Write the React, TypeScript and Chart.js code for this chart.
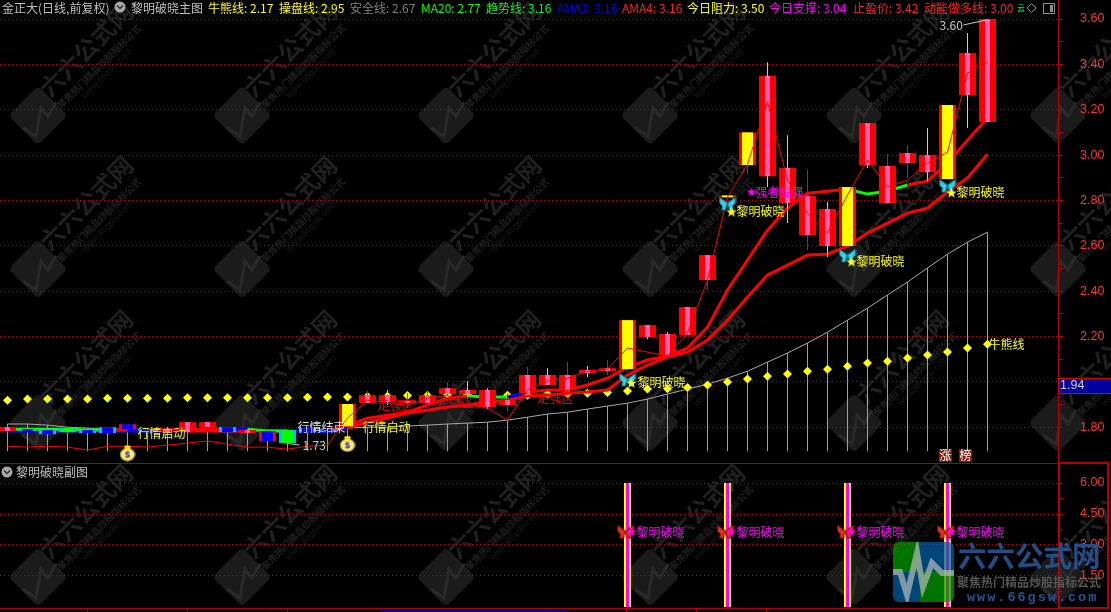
import React, { useEffect, useRef } from "react";
import { Chart, registerables } from "chart.js";

Chart.register(...registerables);

const R = "#ff0000", G = "#00ff00", B = "#0000ff", C = "#00bfff";
const P = "#ff5fb4", Y = "#ffff00", M = "#ff00ff", W = "#c8c8c8";

const bodyHigh = [1.8, 1.791, 1.787, 1.796, 1.787, 1.8, 1.813, 1.787, 1.791, 1.822, 1.822, 1.8, 1.787, 1.783, 1.787, 1.796, 1.791,
  1.902, 1.941, 1.941, 1.919, 1.941, 1.972, 1.964, 1.964, 1.919, 2.03, 2.03, 2.03, 2.052, 2.06, 2.272, 2.25, 2.211, 2.33, 2.559, 2.822,
  3.1, 3.349, 2.943, 2.819, 2.762, 2.859, 3.141, 2.952, 3.009, 3.0, 3.221, 3.45, 3.6];
const bodyLow = [1.783, 1.783, 1.769, 1.778, 1.774, 1.774, 1.791, 1.778, 1.778, 1.778, 1.8, 1.778, 1.774, 1.739, 1.73, 1.778, 1.778,
  1.804, 1.906, 1.911, 1.906, 1.906, 1.946, 1.946, 1.889, 1.897, 1.95, 1.986, 1.964, 2.038, 2.047, 2.056, 2.197, 2.118, 2.206, 2.449, 2.814,
  2.956, 2.907, 2.788, 2.647, 2.599, 2.599, 2.956, 2.788, 2.965, 2.925, 2.894, 3.265, 3.146];
const bodyEdge = [R, C, C, C, C, C, R, C, R, R, R, C, R, R, C, C, C,
  R, R, R, R, R, R, R, R, R, R, R, R, R, R, R, R, R, R, R, R, R, R, R, R, R, R, R, R, R, R, R, R, R];
const bodyCore = ["p", "b", "b", "g", "b", "b", "b", "b", "p", "p", "p", "b", "p", "b", "g", "b", "b",
  "y", "p", "p", "p", "p", "p", "p", "p", "p", "p", "p", "p", "p", "p", "y", "p", "p", "p", "p", "y",
  "y", "p", "p", "p", "p", "y", "p", "p", "p", "p", "y", "p", "p"];

const wickKeys = [18, 19, 20, 21, 22, 23, 24, 25, 26, 27, 28, 29, 30, 31, 32, 33, 35, 37, 38, 39, 40, 41, 43, 44, 45, 46, 48];
const wickHigh = [1.959, 1.964, 1.95, 1.955, 1.999, 2.003, 1.972, 1.95, 2.065, 2.06, 2.087, 2.07, 2.096, 2.272, 2.25, 2.22, 2.559, 3.1, 3.41, 3.088, 2.938, 2.793, 3.141, 3.005, 3.044, 3.119, 3.538];
const wickLow = [1.906, 1.897, 1.884, 1.906, 1.937, 1.928, 1.88, 1.871, 1.95, 1.986, 1.941, 2.021, 2.03, 2.043, 2.188, 2.118, 2.405, 2.912, 2.859, 2.7, 2.581, 2.55, 2.943, 2.788, 2.899, 2.885, 3.119];
const wickColor = [R, "#55ffff", R, R, R, "#55ffff", "#55ffff", R, R, "#55ffff", R, "#55ffff", R, R, "#55ffff", "#55ffff", R, R, "#55ffff", "#55ffff", R, "#55ffff", "#55ffff", R, R, "#55ffff", "#55ffff"];

const bullBearLine = [1.919, 1.924, 1.924, 1.924, 1.924, 1.928, 1.928, 1.928, 1.928, 1.93, 1.93, 1.93, 1.93, 1.93, 1.93, 1.932, 1.933,
  1.933, 1.935, 1.936, 1.94, 1.94, 1.945, 1.945, 1.94, 1.941, 1.941, 1.946, 1.946, 1.95, 1.953, 1.959, 1.968, 1.97, 1.975, 1.986, 1.999,
  2.012, 2.025, 2.034, 2.047, 2.056, 2.069, 2.083, 2.091, 2.105, 2.118, 2.131, 2.149, 2.166];
const curveLine = [1.814, 1.814, 1.809, 1.8, 1.796, 1.791, 1.791, 1.791, 1.791, 1.791, 1.791, 1.791, 1.791, 1.787, 1.787, 1.787, 1.787,
  1.796, 1.8, 1.8, 1.805, 1.809, 1.814, 1.818, 1.822, 1.831, 1.844, 1.858, 1.866, 1.88, 1.893, 1.906, 1.924, 1.946, 1.968, 1.99, 2.016,
  2.047, 2.087, 2.127, 2.171, 2.219, 2.272, 2.325, 2.383, 2.44, 2.502, 2.563, 2.616, 2.66];
const dropFloor = 1.694;

const trendLine = [1.791, 1.791, 1.791, 1.791, 1.787, 1.787, 1.787, 1.787, 1.787, 1.791, 1.791, 1.791, 1.791, 1.783, 1.783, 1.783, 1.783,
  1.809, 1.84, 1.853, 1.866, 1.897, 1.928, 1.937, 1.933, 1.933, 1.955, 1.964, 1.964, 1.986, 2.016, 2.065, 2.096, 2.113, 2.149, 2.241, 2.405,
  2.537, 2.669, 2.766, 2.832, 2.841, 2.85, 2.828, 2.841, 2.868, 2.885, 2.965, 3.066, 3.163];
const trendColors = [G, G, G, G, G, R, B, R, R, R, R, B, G, G, B, B, R, R, R, R, R, R, R, G, G, B, R, R, R, R, R, R, R, R, R, R, R, R, R, R, R, R, G, G, G, R, R, R, R, R];
const momentumLine = [1.783, 1.783, 1.783, 1.783, 1.783, 1.783, 1.783, 1.783, 1.783, 1.783, 1.783, 1.783, 1.783, 1.783, 1.783, 1.783, 1.783,
  1.796, 1.822, 1.84, 1.862, 1.875, 1.889, 1.897, 1.911, 1.919, 1.937, 1.941, 1.95, 1.955, 1.964, 2.03, 2.074, 2.109, 2.131, 2.184, 2.272,
  2.374, 2.471, 2.515, 2.559, 2.563, 2.599, 2.656, 2.7, 2.744, 2.766, 2.837, 2.899, 3.004];
const momentumColors = [B, B, B, B, B, B, B, B, B, R, R, R, B, B, B, B, B, R, R, R, R, R, R, R, R, R, R, R, R, R, R, R, R, R, R, R, R, R, R, R, R, R, R, R, R, R, R, R, R, R];
const closeLine = [1.716, 1.712, 1.716, 1.712, 1.699, 1.716, 1.716, 1.712, 1.721, 1.73, 1.739, 1.725, 1.712, 1.712, 1.703, 1.716, 1.721,
  1.84, 1.919, 1.906, 1.897, 1.928, 1.941, 1.897, 1.884, 1.831, 1.964, 2.003, 2.016, 2.047, 2.056, 2.149, 2.131, 2.113, 2.215, 2.449, 2.815,
  2.96, 3.234, 2.89, 2.744, 2.656, 2.824, 2.978, 2.859, 2.89, 2.965, 3.013, 3.362, 3.41];

const dawnKeys = [31, 36, 42, 47];
const dawnIconPrice = [2.008, 2.784, 2.555, 2.863];
const dawnStarPrice = [1.994, 2.749, 2.528, 2.832];
const bagKeys = [6, 17];
const bagPrice = [1.686, 1.727];

const noteText = ["行情启动", "行情启动", "行情结束", "牛熊线", "走强区", "走强区", "走强区", "黎明破晓", "黎明破晓", "黎明破晓", "黎明破晓", "强者恒强", "3.60", "1.73"];
const noteKey = [6.5, 17.75, 14.5, 49.05, 18.5, 21.5, 26.5, 31.5, 36.45, 42.45, 47.45, 37.4, 46.6, 14.75];
const notePrice = [1.774, 1.8, 1.8, 2.166, 1.897, 1.911, 1.928, 1.999, 2.753, 2.532, 2.836, 2.836, 3.574, 1.721];
const noteColor = [Y, Y, "#e0e0e0", Y, "#e80000", "#e80000", "#e80000", Y, Y, Y, Y, M, W, W];

const subBarHigh = [6, 6, 6, 6];
const subIconValue = [3.62, 3.62, 3.62, 3.62];
const subText = ["黎明破晓", "黎明破晓", "黎明破晓", "黎明破晓"];

const priceTicks = [1.8, 2.0, 2.2, 2.4, 2.6, 2.8, 3.0, 3.2, 3.4, 3.6];
const priceMinor = [1.9, 2.1, 2.3, 2.5, 2.7, 2.9, 3.1, 3.3, 3.5];
const subTicks = [1.5, 3, 4.5, 6];
const subMinor = [0.75, 2.25, 3.75, 5.25];

const headerParts: [string, number, string][] = [
  ["金正大(日线,前复权)", 2, "#c0c0c0"],
  ["黎明破晓主图", 131, "#c0c0c0"],
  ["牛熊线: 2.17", 208, Y],
  ["操盘线: 2.95", 279, Y],
  ["安全线: 2.67", 350, "#808080"],
  ["MA20: 2.77", 421, G],
  ["趋势线: 3.16", 486, G],
  ["AMA3: 3.16", 557, B],
  ["AMA4: 3.16", 622, "#ff2020"],
  ["今日阻力: 3.50", 687, Y],
  ["今日支撑: 3.04", 769, M],
  ["止盈价: 3.42", 853, "#ff2020"],
  ["动能做多线: 3.00", 924, "#ff2020"],
];

const CJK = '"Noto Sans CJK SC"';
const FRAME = "#b40000";

function sprite(w: number, h: number, draw: (c: CanvasRenderingContext2D) => void) {
  const cv = document.createElement("canvas");
  cv.width = w;
  cv.height = h;
  draw(cv.getContext("2d") as CanvasRenderingContext2D);
  return cv;
}
function butterfly(color: string, edge: string) {
  return sprite(18, 16, (c) => {
    const wing = (s: number) => {
      c.beginPath();
      c.moveTo(9, 7);
      c.lineTo(9 + s * 8, 1);
      c.lineTo(9 + s * 8, 7);
      c.lineTo(9 + s * 5, 10);
      c.lineTo(9 + s * 6, 14);
      c.lineTo(9 + s * 2, 14);
      c.closePath();
      c.fillStyle = color;
      c.fill();
      c.strokeStyle = edge;
      c.lineWidth = 1;
      c.stroke();
    };
    wing(-1);
    wing(1);
  });
}
function star(size: number, color: string) {
  return sprite(size, size, (c) => {
    const r = size / 2;
    c.beginPath();
    for (let i = 0; i < 10; i++) {
      const a = -Math.PI / 2 + (i * Math.PI) / 5;
      const d = i % 2 ? r * 0.42 : r;
      c.lineTo(r + d * Math.cos(a), r + d * Math.sin(a));
    }
    c.closePath();
    c.fillStyle = color;
    c.fill();
  });
}
function moneyBag() {
  return sprite(16, 17, (c) => {
    c.fillStyle = "#ffe000";
    c.beginPath();
    c.ellipse(8, 10, 7.5, 6.5, 0, 0, Math.PI * 2);
    c.fill();
    c.fillRect(5, 1, 6, 4);
    c.fillStyle = "#e8e8d8";
    c.beginPath();
    c.ellipse(8, 10, 5.5, 4.8, 0, 0, Math.PI * 2);
    c.fill();
    c.fillStyle = "#402000";
    c.font = "bold 9px 'Liberation Sans'";
    c.textAlign = "center";
    c.textBaseline = "middle";
    c.fillText("$", 8, 10.5);
  });
}

function say(c: CanvasRenderingContext2D, t: string, x: number, y: number, color: string, font = `12px ${CJK}`) {
  c.font = font;
  c.fillStyle = color;
  c.textAlign = "left";
  c.textBaseline = "middle";
  c.fillText(t, x, y);
}
function foldIcon(c: CanvasRenderingContext2D, x: number, y: number) {
  c.fillStyle = "#a8a8a8";
  c.beginPath();
  c.arc(x, y, 5.5, 0, Math.PI * 2);
  c.fill();
  c.strokeStyle = "#303030";
  c.lineWidth = 1.5;
  c.beginPath();
  c.moveTo(x - 3, y - 1.5);
  c.lineTo(x, y + 1.5);
  c.lineTo(x + 3, y - 1.5);
  c.stroke();
}

const watermarkRows = [115.5, 269, 423, 577];
const watermarkCols = [38, 242, 446, 650, 854, 1058];
function watermark(c: CanvasRenderingContext2D) {
  for (const cy of watermarkRows) for (const cx of watermarkCols) {
    c.save();
    c.translate(cx, cy);
    c.save();
    c.rotate(Math.PI / 4);
    c.fillStyle = "#1b1b1b";
    c.beginPath();
    c.roundRect(-21, -21, 42, 42, 5);
    c.fill();
    c.restore();
    c.strokeStyle = "#2a2a2a";
    c.lineWidth = 3;
    c.beginPath();
    c.moveTo(-15, 12);
    c.lineTo(-2, 21);
    c.lineTo(3, -8);
    c.lineTo(10, 1);
    c.lineTo(18, -13);
    c.stroke();
    c.textAlign = "center";
    c.textBaseline = "middle";
    const rows: [string, number, number, string, string][] = [
      ["六六公式网", 48, -66, `bold 24px ${CJK}`, "#202020"],
      ["聚焦热门精品炒股指标公式", 61, -49, `bold 9.5px ${CJK}`, "#202020"],
      ["www.66gsw.com", 69, -42, "9px 'Liberation Sans'", "#1a1a1a"],
    ];
    for (const [t, dx, dy, f, col] of rows) {
      c.save();
      c.translate(dx, dy);
      c.rotate(-Math.PI / 4);
      c.font = f;
      c.fillStyle = col;
      c.fillText(t, 0, 0);
      c.restore();
    }
    c.restore();
  }
}
function siteLogo(c: CanvasRenderingContext2D) {
  c.save();
  c.globalAlpha = 0.72;
  c.beginPath();
  c.roundRect(893, 542, 61, 60, 6);
  c.clip();
  c.fillStyle = "#00a000";
  c.fillRect(893, 542, 27, 30);
  c.fillRect(920, 572, 34, 30);
  c.fillStyle = "#0060a8";
  c.fillRect(920, 542, 34, 30);
  c.fillRect(893, 572, 27, 30);
  c.strokeStyle = "#b0b8b8";
  c.lineWidth = 6;
  c.beginPath();
  c.moveTo(893, 572);
  c.lineTo(900, 572);
  c.lineTo(907, 595);
  c.lineTo(917, 553);
  c.lineTo(923, 587);
  c.lineTo(932, 563);
  c.lineTo(942, 573);
  c.lineTo(954, 573);
  c.stroke();
  c.restore();
  c.save();
  c.globalAlpha = 0.95;
  say(c, "六六公式网", 958, 556, "#26508c", `bold 28.5px ${CJK}`);
  say(c, "聚焦热门精品炒股指标公式", 957, 582, "#5a5a5a", `bold 12px ${CJK}`);
  c.letterSpacing = "2px";
  say(c, "www.66gsw.com", 967, 598, "#2a5a9a", "bold 13.5px 'Liberation Mono'");
  c.letterSpacing = "0px";
  c.restore();
}

const backdrop = {
  id: "backdrop",
  beforeDraw(chart: Chart) {
    const c = chart.ctx;
    c.save();
    c.fillStyle = "#000";
    c.fillRect(0, 0, chart.width, chart.height);
    watermark(c);
    c.restore();
  },
};

const overlay = {
  id: "overlay",
  afterDatasetsDraw(chart: Chart) {
    const c = chart.ctx;
    const sx = chart.scales.x, sy = chart.scales.y, s2 = chart.scales.y2;
    c.save();
    noteText.forEach((t, i) => say(c, t, sx.getPixelForValue(noteKey[i]), sy.getPixelForValue(notePrice[i]), noteColor[i]));
    subText.forEach((t, i) => say(c, t, sx.getPixelForValue(dawnKeys[i] + 0.45), s2.getPixelForValue(subIconValue[i]), M));
    c.restore();
  },
  afterDraw(chart: Chart) {
    const c = chart.ctx;
    c.save();
    headerParts.forEach(([t, x, col]) => say(c, t, x, 8, col));
    foldIcon(c, 120, 7);
    // top-right window controls
    say(c, "云", 1017, 8, G, `8px ${CJK}`);
    c.strokeStyle = "#909090";
    c.lineWidth = 1;
    c.beginPath();
    c.moveTo(1031.5, 3.5); c.lineTo(1036, 8); c.lineTo(1031.5, 12.5); c.lineTo(1027, 8); c.closePath();
    c.stroke();
    c.strokeStyle = "#909090";
    c.strokeRect(1043.5, 3.5, 11, 10);
    c.fillStyle = "#909090";
    c.fillRect(1050, 5, 3, 7);
    // panel frames
    c.strokeStyle = FRAME;
    c.lineWidth = 1;
    c.beginPath();
    c.moveTo(0, 463.5); c.lineTo(1058, 463.5);
    c.moveTo(0, 608.5); c.lineTo(1058, 608.5);
    for (const x of [87, 187, 287, 626, 696, 766]) { c.moveTo(x + 0.5, 608); c.lineTo(x + 0.5, 612); }
    c.stroke();
    c.fillStyle = "#000090";
    c.fillRect(379, 610, 189, 2);
    c.strokeStyle = FRAME;
    c.lineWidth = 2;
    c.strokeRect(1059, 463, 49, 145);
    // sub-panel title
    foldIcon(c, 7, 472);
    say(c, "黎明破晓副图", 16, 472, "#c0c0c0");
    // 涨 榜 badges
    [["涨", 939], ["榜", 959]].forEach(([t, x]) => {
      c.fillStyle = "#8a1a08";
      c.fillRect(x as number, 449, 13, 13);
      say(c, t as string, (x as number) + 0.5, 455.5, "#ffffff");
    });
    // floating price tag
    c.fillStyle = "#0000a0";
    c.fillRect(1058, 378, 53, 16);
    c.strokeStyle = "#e00000";
    c.lineWidth = 1;
    c.strokeRect(1058.5, 378.5, 53, 15);
    say(c, "1.94", 1060, 386, "#d0d0d0", "12.5px 'Liberation Sans'");
    siteLogo(c);
    c.restore();
  },
};

const xy = (arr: number[]) => arr.map((y, x) => ({ x, y }));
const span = (keys: number[], lo: number[], hi: number[]) => keys.map((x, i) => ({ x, y: [lo[i], hi[i]] }));
const allKeys = bodyHigh.map((_, i) => i);
const pickCore = (kind: string) => allKeys.filter((k) => bodyCore[k] === kind);
const wideKeys = allKeys.filter((k) => bodyCore[k] !== "p");
const wideColor: Record<string, string> = { y: Y, b: B, g: G };

function bar(data: any[], thickness: number, color: any, order: number, yAxisID = "y") {
  return { type: "bar", data, barThickness: thickness, backgroundColor: color, order, yAxisID, grouped: false, borderWidth: 0, inflateAmount: 0 };
}
function line(data: any[], color: any, width: number, order: number, extra: any = {}) {
  return { type: "line", data, borderColor: color, borderWidth: width, pointRadius: 0, tension: 0, order, yAxisID: "y", ...extra };
}
function icons(keys: number[], vals: number[], style: any, order: number, dx = 0, yAxisID = "y") {
  return {
    type: "line", data: keys.map((x, i) => ({ x: x + dx, y: vals[i] })), showLine: false,
    pointStyle: style, pointRadius: 8, order, yAxisID,
  };
}

export default function App() {
  const ref = useRef<HTMLCanvasElement>(null);
  useEffect(() => {
    const cv = ref.current as HTMLCanvasElement;
    const yellowStar = star(11, Y);
    const pinkStar = star(10, M);
    const yAxis = (major: number[], minor: number[], lo: number, hi: number, weight: number, hide: number[]) => ({
      type: "linear", position: "right", stack: "panels", stackWeight: weight, min: lo, max: hi,
      afterBuildTicks: (a: any) => { a.ticks = [...major, ...minor].sort((p, q) => p - q).map((value) => ({ value })); },
      afterFit: (a: any) => {
        a.width = 53;
        a.paddingTop = 0;
        a.paddingBottom = 0;
        a.paddingLeft = 0;
        a.paddingRight = 0;
      },
      border: { color: FRAME, width: 1, dash: [1, 3] },
      grid: {
        tickLength: 5,
        lineWidth: 1,
        color: (ctx: any) => (major.includes(ctx.tick?.value) ? "#c00000" : "rgba(0,0,0,0)"),
        tickColor: FRAME,
        tickBorderDash: [],
      },
      ticks: {
        autoSkip: false, color: "#ff3030", padding: 17, font: { family: "Liberation Sans", size: 12.5 },
        callback: (v: number) => (major.includes(v) && !hide.includes(v) ? v.toFixed(2) : ""),
      },
    });
    const chart = new Chart(cv, {
      type: "bar",
      data: {
        datasets: [
          icons(dawnKeys, dawnStarPrice, yellowStar, -3, 0.2),
          icons(dawnKeys, dawnIconPrice, butterfly("#35d0e8", "#0a6a80"), -2),
          icons([37], [2.836], star(10, M), -3, 0.2),
          icons(bagKeys, bagPrice, moneyBag(), -2),
          icons(dawnKeys, subIconValue, pinkStar, -3, 0.2, "y2"),
          icons(dawnKeys, subIconValue, butterfly("#e03020", "#801000"), -2, -0.1, "y2"),
          line(xy(closeLine), R, 1, 1),
          line([{ x: 47.8, y: 3.574 }, { x: 48.9, y: 3.595 }], W, 1, 1),
          line([{ x: 14.05, y: 1.728 }, { x: 14.6, y: 1.721 }], W, 1, 1),
          bar(span(pickCore("p"), pickCore("p").map((k) => bodyLow[k]), pickCore("p").map((k) => bodyHigh[k])), 5, P, 2),
          bar(span(wideKeys, wideKeys.map((k) => bodyLow[k]), wideKeys.map((k) => bodyHigh[k])), 11, wideKeys.map((k) => wideColor[bodyCore[k]]), 2),
          bar(span(allKeys, bodyLow, bodyHigh), 17, bodyEdge, 3),
          bar(span(wickKeys, wickLow, wickHigh), 1, wickColor, 4),
          line(xy(trendLine), R, 3, 5, { segment: { borderColor: (s: any) => trendColors[s.p0DataIndex] } }),
          line(xy(momentumLine), R, 3, 5, { segment: { borderColor: (s: any) => momentumColors[s.p0DataIndex] } }),
          { ...line(xy(bullBearLine), Y, 0, 6), showLine: false, pointStyle: "rectRot", pointRadius: 4.5, pointBackgroundColor: Y, pointBorderWidth: 0 },
          line(xy(curveLine), "#a8a8a8", 1, 7),
          bar(span(allKeys, allKeys.map(() => dropFloor), curveLine), 1, "#a0a0a0", 8),
          bar(span(dawnKeys, dawnKeys.map(() => 0), subBarHigh), 3, M, 2, "y2"),
          bar(span(dawnKeys, dawnKeys.map(() => 0), subBarHigh), 7, Y, 3, "y2"),
        ] as any,
      },
      options: {
        responsive: false,
        animation: false,
        layout: { autoPadding: false, padding: { left: 0, right: 0, top: 0, bottom: 3 } },
        plugins: { legend: { display: false }, tooltip: { enabled: false } },
        scales: {
          x: { type: "linear", display: false, min: -0.375, max: 52.525, offset: false, grid: { display: false } },
          y: { ...yAxis(priceTicks, priceMinor, 1.642, 3.684, 463, [2.0]), weight: 0 },
          y2: { ...yAxis(subTicks, subMinor, -0.097, 6.968, 146, []), weight: 1 },
        },
      } as any,
      plugins: [backdrop, overlay],
    });
    return () => chart.destroy();
  }, []);
  return (
    <div style={{ position: "fixed", left: 0, top: 0, width: 1111, height: 612, background: "#000" }}>
      <canvas ref={ref} width={1111} height={612} style={{ display: "block" }} />
    </div>
  );
}
